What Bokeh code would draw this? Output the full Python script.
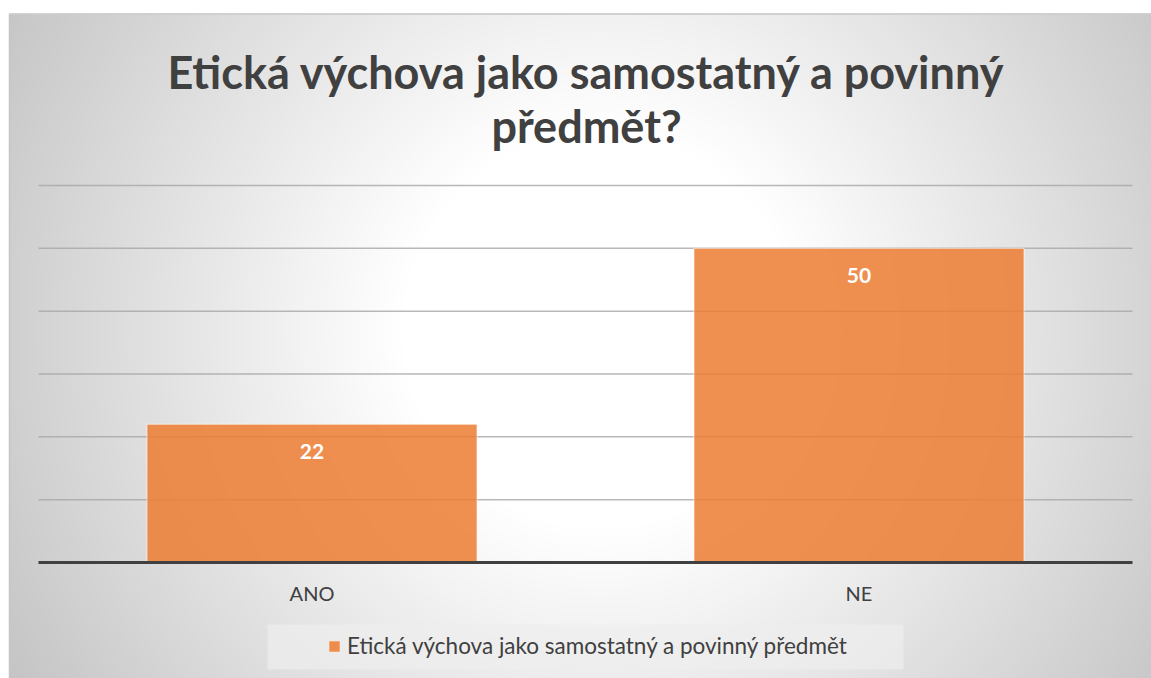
import numpy as np
from bokeh.plotting import figure
from bokeh.models import Range1d, Legend, LegendItem, ColumnDataSource
from bokeh.core.properties import value
from bokeh.embed import file_html
from bokeh.resources import INLINE

# ---- data ----
categories = ["ANO", "NE"]
counts = [22, 50]
grid_values = [10, 20, 30, 40, 50, 60]
title_lines = ["Etická výchova jako samostatný a povinný", "předmět?"]
series_name = "Etická výchova jako samostatný a povinný předmět"

W, H = 1151, 678
# plot area geometry (canvas px)
plot_left, plot_w = 38, 1094
base_from_bottom = 116
px_per_unit = (493 - 116) / 60.0
cat_w = plot_w / len(categories)

p = figure(width=W, height=H, output_backend="svg", toolbar_location=None,
           min_border=0, x_axis_location=None, y_axis_location=None,
           x_range=Range1d(-plot_left / cat_w, (W - plot_left) / cat_w),
           y_range=Range1d(-base_from_bottom / px_per_unit, (H - base_from_bottom) / px_per_unit),
           background_fill_color="white", border_fill_color="white")
p.outline_line_color = None
p.xgrid.visible = False
p.ygrid.visible = False
p.extra_x_ranges = {"px": Range1d(0, W)}
p.extra_y_ranges = {"py": Range1d(0, H)}

# ---- radial gradient background (styling) ----
xx, yy = np.meshgrid(np.arange(W) + 0.5, np.arange(H) + 0.5)
d = np.sqrt((xx - 600.0) ** 2 + (yy - 330.0) ** 2)
g = np.where(d < 200, 255.0, 255.0 - 0.12 * (d - 200))
g = np.clip(g, 195, 255)
inside = (xx >= 9) & (yy >= 14)
g = np.where(inside, g, 255.0)
img = np.empty((H, W), dtype=np.uint32)
view = img.view(dtype=np.uint8).reshape((H, W, 4))
gv = np.flipud(g).astype(np.uint8)
view[:, :, 0] = gv
view[:, :, 1] = gv
view[:, :, 2] = gv
view[:, :, 3] = 255
p.image_rgba(image=[img], x=0, y=0, dw=W, dh=H, x_range_name="px", y_range_name="py")

# chart border
p.quad(left=9, right=W + 2, bottom=-2, top=H - 13.5, x_range_name="px", y_range_name="py",
       fill_alpha=0, line_color="#c4c4c4", line_width=1.5)

# title
p.text(x=[586, 586], y=[607, 553], text=title_lines, x_range_name="px", y_range_name="py",
       text_font=value("Lato"), text_font_style="bold", text_font_size="45px",
       text_color="#404040", text_align="center", text_baseline="alphabetic")

# gridlines
n = len(categories)
p.segment(x0=[0] * len(grid_values), x1=[n] * len(grid_values), y0=grid_values, y1=grid_values,
          line_color="#a6a6a6", line_width=1.5, line_alpha=0.8)

# bars
src = ColumnDataSource(dict(x=[i + 0.5 for i in range(n)], top=counts,
                            lbl=[str(c) for c in counts], cat=categories))
bars = p.vbar(x="x", top="top", bottom=0, width=330 / cat_w, source=src,
              fill_color="#ED7D31", fill_alpha=0.85, line_color="white", line_alpha=0.6, line_width=1)

# axis baseline
p.segment(x0=[0], x1=[n], y0=[0], y1=[0], line_color="#404040", line_width=3)

# data labels
p.text(x="x", y="top", text="lbl", source=src, y_offset=27,
       text_font=value("Lato"), text_font_style="bold", text_font_size="21px",
       text_color="white", text_align="center", text_baseline="middle")

# category labels
p.text(x="x", y=0, text="cat", source=src, y_offset=30,
       text_font=value("Lato"), text_font_size="20px",
       text_color="#404040", text_align="center", text_baseline="middle")

# legend background box
p.quad(left=267, right=903, bottom=9, top=54, x_range_name="px", y_range_name="py",
       fill_color="#eeeeee", fill_alpha=0.7, line_color=None)

legend = Legend(items=[LegendItem(label=series_name, renderers=[bars])],
                location=(327, 19), orientation="horizontal",
                label_text_font="Lato", label_text_font_size="22.5px", label_text_color="#404040",
                glyph_width=14, glyph_height=14, label_standoff=6, padding=6, margin=0,
                background_fill_alpha=0, border_line_color=None)
p.add_layout(legend, "center")

open("out.html", "w").write(file_html(p, INLINE))
